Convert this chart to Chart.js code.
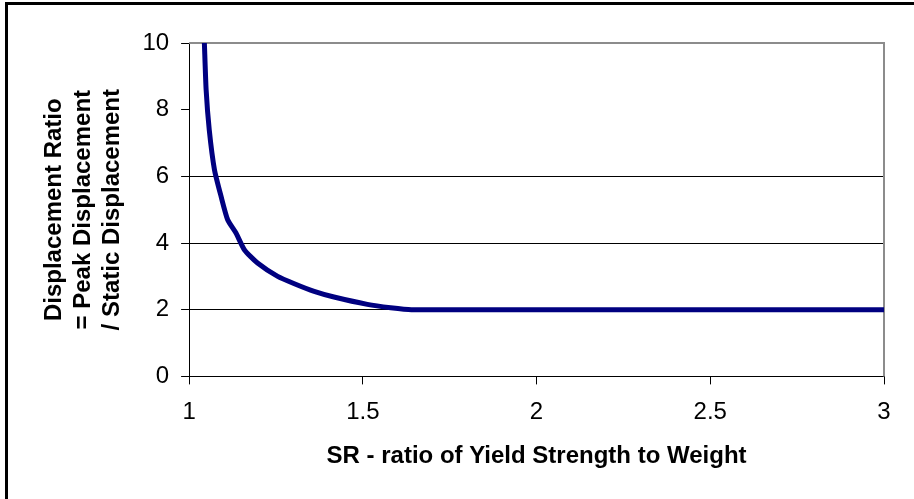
<!DOCTYPE html>
<html>
<head>
<meta charset="utf-8">
<script src="https://cdn.jsdelivr.net/npm/chart.js@4/dist/chart.umd.min.js"></script>
<style>
	html, body { margin: 0; padding: 0; background: #fff; }
	#wrap { position: relative; width: 914px; height: 499px; }
	#frame {
		position: absolute; left: 5px; top: 2px; right: 0; bottom: 0;
		border-left: 3px solid #000; border-top: 3px solid #000;
		pointer-events: none;
	}
</style>
</head>
<body>
<div id="wrap">
	<canvas id="chart" width="914" height="499"></canvas>
	<div id="frame"></div>
</div>
<script>
// SR - ratio of yield strength to weight
const srValues = [1.044, 1.049, 1.058, 1.073, 1.092, 1.111, 1.135, 1.159, 1.197, 1.255, 1.303, 1.36, 1.417, 1.513, 1.58, 1.64, 2.0, 2.5, 3.0];
// displacement ratio = peak / static displacement
const ratioValues = [10, 8.6, 7.4, 6.2, 5.4, 4.7, 4.3, 3.8, 3.4, 3.0, 2.78, 2.55, 2.38, 2.16, 2.06, 2.0, 2.0, 2.0, 2.0];

const xTicks = [1, 1.5, 2, 2.5, 3];
const yTicks = [0, 2, 4, 6, 8, 10];
const gridAt = [2, 4, 6];

const xTitle = "SR - ratio of Yield Strength to Weight";
const yTitle = ["Displacement Ratio", "= Peak Displacement", "/ Static Displacement"];

const points = srValues.map((x, i) => ({ x, y: ratioValues[i] }));

// grey frame on top/right of plot area
const plotFrame = {
	id: "plotFrame",
	beforeDatasetsDraw(chart) {
		const { ctx, chartArea: a } = chart;
		ctx.save();
		ctx.strokeStyle = "#8c8c8c";
		ctx.lineWidth = 2;
		ctx.beginPath();
		ctx.moveTo(a.left, a.top);
		ctx.lineTo(a.right, a.top);
		ctx.lineTo(a.right, a.bottom);
		ctx.stroke();
		ctx.restore();
	}
};

const family = "'Liberation Sans', Arial, sans-serif";

new Chart(document.getElementById("chart"), {
	type: "scatter",
	data: {
		datasets: [{
			data: points,
			showLine: true,
			borderColor: "#000080",
			borderWidth: 5,
			pointRadius: 0,
			tension: 0.2,
			fill: false
		}]
	},
	options: {
		responsive: false,
		animation: false,
		clip: false,
		layout: { padding: { left: 36, right: 30, top: 43, bottom: 24 } },
		plugins: { legend: { display: false }, tooltip: { enabled: false } },
		scales: {
			x: {
				type: "linear",
				min: 1,
				max: 3,
				afterBuildTicks: (s) => { s.ticks = xTicks.map(v => ({ value: v })); },
				grid: { drawOnChartArea: false, tickLength: 8, tickColor: "#000", lineWidth: 1 },
				border: { color: "#000", width: 1 },
				ticks: { color: "#000", font: { family, size: 24 }, padding: 14, maxRotation: 0, callback: (v) => String(v) },
				title: { display: true, text: xTitle, color: "#000", font: { family, size: 24, weight: "bold" }, padding: { top: 1 } }
			},
			y: {
				min: 0,
				max: 10,
				afterBuildTicks: (s) => { s.ticks = yTicks.map(v => ({ value: v })); },
				grid: {
					tickLength: 8,
					tickColor: "#000",
					lineWidth: 1,
					color: (c) => gridAt.includes(c.tick && c.tick.value) ? "#000" : "rgba(0,0,0,0)"
				},
				border: { color: "#000", width: 1 },
				ticks: { color: "#000", font: { family, size: 24 }, padding: 12, callback: (v) => String(v) },
				title: { display: true, text: yTitle, color: "#000", font: { family, size: 24, weight: "bold" }, padding: { bottom: 4 }, lineHeight: 1.35 }
			}
		}
	},
	plugins: [plotFrame]
});
</script>
</body>
</html>
